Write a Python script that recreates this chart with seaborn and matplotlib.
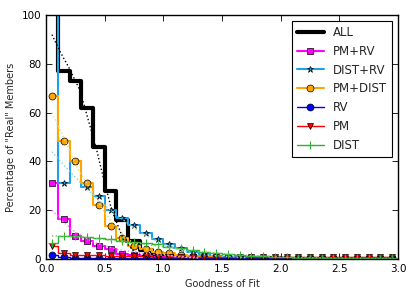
import numpy as np
import pandas as pd
import seaborn as sns
from matplotlib import pyplot as plt

# bin centres of the goodness-of-fit histogram
bins = np.round(np.arange(0.05, 3.0, 0.1), 2)

all_v = [130, 77, 73, 62, 46, 28, 16, 7.5, 3.5, 2.0, 1.2, 0.9, 0.7, 0.5, 0.4,
         0.3, 0.3, 0.2, 0.2, 0.2, 0.1, 0.1, 0.1, 0.1, 0.1, 0.1, 0.1, 0.1, 0.1, 0.1]
pm_rv = [31, 16.5, 9.5, 7.5, 5.3, 4.0, 2.2, 1.5, 1.2, 0.9, 0.7, 0.5, 0.4, 0.3, 0.3,
         0.2, 0.2, 0.2, 0.1, 0.1, 0.1, 0.1, 0.1, 0.1, 0.1, 0.1, 0.1, 0.1, 0.1, 0.1]
dist_rv = [130, 31, 40, 29.5, 26, 20, 17, 14, 10.5, 8, 6, 4.4, 2.8, 2.0, 1.3,
           1.0, 0.8, 0.6, 0.5, 0.4, 0.3, 0.3, 0.3, 0.2, 0.2, 0.2, 0.2, 0.2, 0.2, 0.2]
pm_dist = [67, 48.5, 40, 31.3, 22, 13.5, 8.5, 5.5, 4, 3, 2.4, 1.8, 1.3, 1.0, 0.8,
           0.6, 0.5, 0.4, 0.3, 0.3, 0.3, 0.2, 0.2, 0.2, 0.2, 0.2, 0.2, 0.2, 0.2, 0.2]
rv = [1.5, 0.8, 0.6, 0.5, 0.5, 0.4, 0.4, 0.3, 0.3, 0.3, 0.3, 0.2, 0.2, 0.2, 0.2,
      0.2, 0.2, 0.2, 0.2, 0.2, 0.2, 0.2, 0.2, 0.2, 0.2, 0.2, 0.2, 0.2, 0.2, 0.2]
pm = [5.5, 2.5, 1.8, 1.6, 1.5, 1.4, 1.3, 1.2, 1.1, 1.0, 1.0, 0.9, 0.9, 0.9, 0.9,
      0.9, 0.9, 0.9, 0.9, 0.9, 0.9, 0.9, 0.9, 0.9, 0.9, 0.9, 0.9, 0.9, 0.9, 0.9]
dist = [6.5, 9.5, 9.5, 9, 8.5, 8, 7.5, 7, 6.5, 6, 5, 4.5, 3.5, 3, 2.5,
        2, 1.7, 1.4, 1.1, 0.9, 0.7, 0.6, 0.5, 0.4, 0.4, 0.3, 0.3, 0.3, 0.2, 0.2]

# dotted fitted curves
fit_all_x = [0.05, 0.12, 0.2, 0.29, 0.36, 0.43, 0.48, 0.56, 0.66, 0.75, 0.85, 1.0]
fit_all_y = [92, 85, 78, 69, 57, 45, 35, 20, 8, 3, 1, 0.2]
fit_drv_x = [0.05, 0.2, 0.3, 0.45, 0.6, 0.8, 1.0, 1.2, 1.4, 1.7]
fit_drv_y = [44, 36, 31, 24, 18, 11, 6, 3, 1.5, 0.5]
fit_pmd_x = [0.05, 0.15, 0.27, 0.4, 0.5, 0.6, 0.7, 0.8, 0.95, 1.1, 1.3]
fit_pmd_y = [60, 50, 37, 27, 19, 13, 8, 5, 2.5, 1, 0.3]
fit_pmrv_x = [0.05, 0.15, 0.25, 0.4, 0.6, 0.8, 1.0, 1.3]
fit_pmrv_y = [20, 15, 11, 7, 4, 2.5, 1.5, 0.7]
fit_dist_x = [0.05, 0.3, 0.6, 1.0, 1.3, 1.6, 2.0, 2.5, 3.0]
fit_dist_y = [9.5, 9, 7.5, 5, 3, 1.8, 0.8, 0.3, 0.1]

sns.set_style('ticks', {'xtick.direction': 'in', 'ytick.direction': 'in'})
plt.rcParams['font.family'] = ['DejaVu Sans']
plt.rcParams['xtick.top'] = True
plt.rcParams['ytick.right'] = True

fig, ax = plt.subplots(figsize=(4.15, 2.97), dpi=100)
fig.subplots_adjust(left=0.111, right=0.959, top=0.949, bottom=0.128)

series = [
    ('ALL', all_v, 'black', None, 3),
    ('PM+RV', pm_rv, '#ff00ff', 's', 1.5),
    ('DIST+RV', dist_rv, '#1ea0e6', '*', 1.5),
    ('PM+DIST', pm_dist, '#ffa500', 'o', 1.5),
    ('RV', rv, '#0000ff', 'o', 1.0),
    ('PM', pm, '#ff0000', 'v', 1.0),
    ('DIST', dist, '#33b033', '+', 1.0),
]

for label, vals, col, mk, lw in series:
    kw = dict(marker=mk, markersize=5, markeredgecolor='k', markeredgewidth=0.5) if mk else {}
    if mk == '+':
        kw = dict(marker='+', markersize=6, markeredgecolor=col, markeredgewidth=0.8)
    sns.lineplot(x=bins, y=vals, ax=ax, color=col, lw=lw, label=label,
                 drawstyle='steps-mid', **kw)

fits = [(fit_all_x, fit_all_y, 'black'), (fit_drv_x, fit_drv_y, '#7fd6e6'),
        (fit_pmd_x, fit_pmd_y, '#e6dc7f'), (fit_pmrv_x, fit_pmrv_y, '#f07ff0'),
        (fit_dist_x, fit_dist_y, '#66cc66')]
for fx, fy, col in fits:
    sns.lineplot(x=fx, y=fy, ax=ax, color=col, lw=1.0, linestyle=':', legend=False)

ax.set_xlim(0, 3)
ax.set_ylim(0, 100)
ax.set_xticks(np.arange(0, 3.01, 0.5))
ax.set_xticklabels([f'{v:.1f}' for v in np.arange(0, 3.01, 0.5)])
ax.set_yticks(range(0, 101, 20))
ax.tick_params(labelsize=7.5, length=4, width=0.6, colors='black')
ax.set_xlabel('Goodness of Fit', fontsize=7)
ax.set_ylabel('Percentage of "Real" Members', fontsize=7)
for s in ax.spines.values():
    s.set_color('black')
    s.set_linewidth(1)

leg = ax.legend(loc='upper right', fontsize=8.5, fancybox=False, framealpha=1,
                edgecolor='black', numpoints=1, handlelength=2.3)
leg.get_frame().set_linewidth(0.8)

plt.savefig('out.png', dpi=100)
